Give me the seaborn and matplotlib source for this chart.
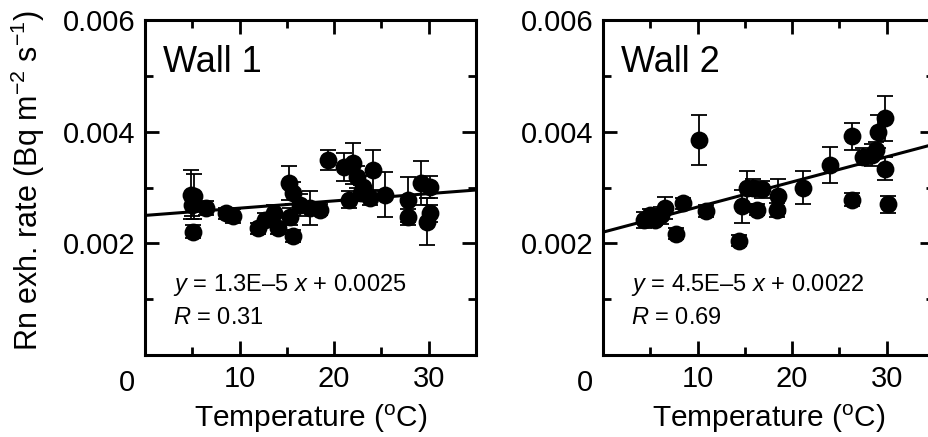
import numpy as np
import pandas as pd
import matplotlib
matplotlib.use("Agg")
import matplotlib.pyplot as plt
import seaborn as sns
from matplotlib.ticker import FixedLocator

# Wall 1 data: temperature (C), exhalation rate, error
t1 = [4.9, 5.2, 5.0, 5.1, 6.5, 8.6, 9.3, 12.0, 12.7, 13.6, 14.1, 15.2, 15.7, 15.3,
      15.7, 16.4, 17.4, 18.5, 19.4, 21.0, 22.0, 21.6, 22.4, 23.1, 23.8, 22.8, 24.1,
      25.4, 27.8, 27.8, 29.2, 30.1, 30.1, 29.8]
r1 = [0.00287, 0.00284, 0.00269, 0.00221, 0.00263, 0.00254, 0.00249, 0.00227, 0.00242,
      0.00254, 0.00227, 0.00308, 0.00290, 0.00248, 0.00213, 0.00269, 0.00263, 0.00260,
      0.00349, 0.00337, 0.00343, 0.00278, 0.00319, 0.00301, 0.00281, 0.00290, 0.00331,
      0.00287, 0.00278, 0.00247, 0.00308, 0.00301, 0.00254, 0.00239]
e1 = [0.00044, 0.00040, 0.00020, 0.00012, 0.00012, 0.00010, 0.00012, 0.00010, 0.00012,
      0.00015, 0.00010, 0.00030, 0.00020, 0.00015, 0.00010, 0.00020, 0.00030, 0.00010,
      0.00018, 0.00025, 0.00037, 0.00015, 0.00020, 0.00020, 0.00012, 0.00015, 0.00036,
      0.00040, 0.00040, 0.00015, 0.00039, 0.00020, 0.00015, 0.00042]

# Wall 2 data
t2 = [4.3, 5.0, 5.5, 6.1, 6.6, 7.7, 8.5, 10.1, 10.9, 14.4, 14.7, 15.2, 15.9, 16.8,
      16.3, 18.5, 18.4, 21.1, 24.0, 26.3, 26.3, 27.5, 28.4, 28.9, 29.1, 29.8, 29.8, 30.1]
r2 = [0.00242, 0.00251, 0.00242, 0.00250, 0.00263, 0.00217, 0.00272, 0.00385, 0.00258,
      0.00205, 0.00266, 0.00300, 0.00300, 0.00297, 0.00260, 0.00285, 0.00260, 0.00300,
      0.00340, 0.00392, 0.00278, 0.00355, 0.00358, 0.00367, 0.00400, 0.00424, 0.00334,
      0.00270]
e2 = [0.00015, 0.00010, 0.00010, 0.00015, 0.00020, 0.00010, 0.00010, 0.00045, 0.00010,
      0.00010, 0.00030, 0.00030, 0.00015, 0.00015, 0.00010, 0.00030, 0.00012, 0.00030,
      0.00032, 0.00024, 0.00012, 0.00015, 0.00020, 0.00015, 0.00030, 0.00040, 0.00020,
      0.00015]

# regression fits (slope, intercept, R)
fit1 = (1.3e-5, 0.0025, 0.31)
fit2 = (4.5e-5, 0.0022, 0.69)
eq1 = r"$\it{y}$ = 1.3E–5 $\it{x}$ + 0.0025"
eq2 = r"$\it{y}$ = 4.5E–5 $\it{x}$ + 0.0022"

sns.set_style("ticks")
plt.rcParams['font.family'] = ['Liberation Sans', 'DejaVu Sans']
plt.rcParams['mathtext.fontset'] = 'custom'
plt.rcParams['mathtext.rm'] = 'Liberation Sans'
plt.rcParams['mathtext.it'] = 'Liberation Sans:italic'
plt.rcParams['text.color'] = 'black'
plt.rcParams['axes.labelcolor'] = 'black'

fig = plt.figure(figsize=(9.29, 4.37), dpi=100)
ax1 = fig.add_axes([145/929, 1-355/437, 331/929, 335/437])
ax2 = fig.add_axes([603/929, 1-355/437, 331/929, 335/437])

panels = [(ax1, t1, r1, e1, fit1, eq1, "Wall 1"),
          (ax2, t2, r2, e2, fit2, eq2, "Wall 2")]

for ax, t, r, e, fit, eq, name in panels:
    df = pd.DataFrame({'T': t, 'rate': r, 'err': e})
    ax.errorbar(df['T'], df['rate'], yerr=df['err'], fmt='none', ecolor='black',
                elinewidth=1.3, capsize=6, capthick=1.3, zorder=2)
    sns.scatterplot(data=df, x='T', y='rate', ax=ax, color='black', s=165,
                    edgecolor='black', linewidth=0, zorder=3)
    xl = np.array([0, 35])
    sns.lineplot(x=xl, y=fit[0] * xl + fit[1], ax=ax, color='black', lw=2.2, zorder=4)

    ax.set_xlim(0, 35)
    ax.set_ylim(0, 0.006)
    ax.xaxis.set_major_locator(FixedLocator([10, 20, 30]))
    ax.xaxis.set_minor_locator(FixedLocator([5, 15, 25, 35]))
    ax.yaxis.set_major_locator(FixedLocator([0.002, 0.004, 0.006]))
    ax.yaxis.set_minor_locator(FixedLocator([0.001, 0.003, 0.005]))
    ax.set_yticklabels(['0.002', '0.004', '0.006'])
    ax.tick_params(which='both', direction='in', top=True, right=True, width=2,
                   labelsize=21, colors='black')
    ax.tick_params(which='major', length=10, pad=7)
    ax.tick_params(which='minor', length=6)
    for s in ax.spines.values():
        s.set_linewidth(2.2)
        s.set_color('black')
    ax.set_xlabel('Temperature ($^{\\mathregular{o}}$C)', fontsize=21.5, labelpad=7)
    ax.set_ylabel('')
    ax.text(-0.055, -0.085, '0', transform=ax.transAxes, fontsize=21,
            ha='center', va='center')
    ax.text(0.054, 0.845, name, transform=ax.transAxes, fontsize=26, va='baseline')
    ax.text(0.085, 0.192, eq, transform=ax.transAxes, fontsize=17, va='baseline')
    ax.text(0.085, 0.0925, r"$\it{R}$ = %.2f" % fit[2], transform=ax.transAxes,
            fontsize=17, va='baseline')

fig.text(28/929, 1-180/437, 'Rn exh. rate (Bq m$^{\\mathregular{-2}}$ s$^{\\mathregular{-1}}$)',
         rotation=90, fontsize=22, ha='center', va='center')

fig.savefig('out.png', dpi=100)
